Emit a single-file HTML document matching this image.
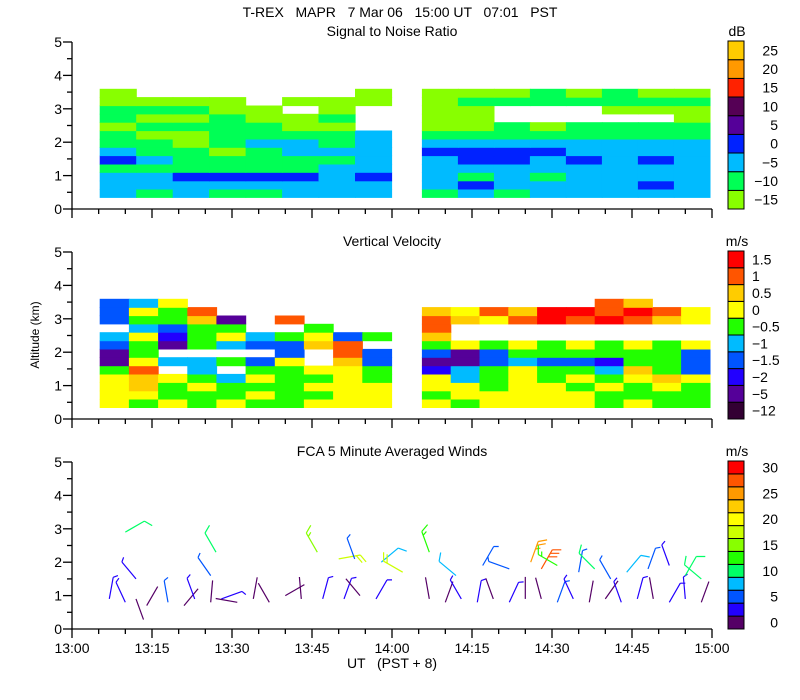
<!DOCTYPE html>
<html><head><meta charset="utf-8"><style>
body{margin:0;background:#fff}
svg{display:block;font-family:"Liberation Sans",sans-serif;font-size:14px}
</style></head><body>
<svg id="c" width="800" height="700" viewBox="0 0 800 700"></svg>
<script>
// ---- data ----
const snrColors=["#88ff00","#00ff55","#00bbff","#0022ff","#550099","#550055","#ff2200","#ff9900","#ffcc00"];
const snrTicks=["-15","-10","-5","0","5","10","15","20","25"];
const vvColors=["#330033","#550099","#2200ff","#0055ff","#00bbff","#22ff00","#ffff00","#ffcc00","#ff5500","#ff0000"];
const vvTicks=["-12","-5","-2","-1.5","-1","-0.5","0","0.5","1","1.5"];
const windColors=["#550066","#2200ff","#0055ff","#00bbff","#00ff66","#22ff00","#88ff00","#ccff00","#ffff00","#ffcc00","#ff9900","#ff5500","#ff0000"];
const windTicks=["0","5","10","15","20","25","30"];
const xTicks=["13:00","13:15","13:30","13:45","14:00","14:15","14:30","14:45","15:00"];
const rowBase=0.35, rowStep=0.25;
// segments: start/end minutes after 13:00
const seg1=[5.2,59.9], seg2=[65.6,119.6];
// SNR category index per row (bottom->top), per column
const snr1=[
[2,1,2,1,1,2,2,2],[2,2,2,2,2,2,2,2],[2,2,3,3,3,3,2,3],[1,1,1,1,1,1,2,2],
[3,2,1,1,1,1,1,2],[2,1,1,0,1,2,2,2],[1,1,0,1,2,2,1,2],[1,0,0,1,1,1,1,2],
[0,1,1,1,1,0,0,-1],[1,0,0,1,0,0,1,-1],[1,1,1,0,0,-1,0,-1],[0,0,0,0,-1,0,0,0],
[0,-1,-1,-1,-1,-1,-1,0]];
const snr2=[
[1,2,1,2,2,2,2,2],[2,3,2,2,2,2,3,2],[2,1,2,1,2,2,2,2],[2,2,2,2,2,2,2,2],
[2,3,3,2,3,2,3,2],[3,3,3,3,2,2,2,2],[2,2,2,2,2,2,2,2],[1,1,1,1,1,1,1,1],
[0,0,1,0,1,1,1,1],[0,0,-1,-1,-1,-1,-1,0],[0,0,-1,-1,-1,0,0,0],[0,1,1,1,1,1,1,1],
[0,0,0,1,0,1,0,0]];
const vv1=[
[6,5,6,5,6,5,5,6,6,6],[6,6,5,5,5,6,5,5,6,6],[6,7,5,6,5,5,5,6,6,6],[6,7,6,5,4,6,5,5,6,5],
[5,8,-1,4,-1,5,5,6,6,5],[1,6,4,4,5,3,6,-1,7,3],[1,5,-1,-1,-1,-1,3,-1,8,3],[3,5,1,5,4,3,3,7,8,-1],
[4,6,2,5,6,4,5,6,3,5],[-1,4,3,5,5,-1,-1,5,-1,-1],[3,5,5,7,1,-1,8,-1,-1,-1],[3,6,5,8,-1,-1,-1,-1,-1,-1],
[3,4,6,-1,-1,-1,-1,-1,-1,-1]];
const vv2=[
[6,5,6,6,6,6,5,6,5,5],[5,6,6,6,6,6,5,5,5,5],[6,6,5,6,6,5,6,5,6,5],[6,4,5,6,5,6,5,6,7,6],
[2,4,5,6,5,5,4,7,5,3],[1,1,3,4,3,3,2,5,5,3],[3,1,3,5,5,5,5,5,5,3],[5,6,5,6,5,6,5,6,5,6],
[7,-1,-1,-1,-1,-1,-1,-1,-1,-1],[8,-1,-1,-1,-1,-1,-1,-1,-1,-1],[8,7,6,8,9,8,9,8,7,6],[7,6,8,7,9,9,8,9,8,6],
[-1,-1,-1,-1,-1,-1,8,7,-1,-1]];
// winds: minutes after 13:00, altitude km, speed m/s, direction deg
const windTime=[7,10,12,14,18,21,23,26,28,31,34,37,40,43,47,51,54,57,67,70,73,76,79,82,85,88,91,94,97,100,103,106,109,112,115,118,
10,27,12,26,46,50,53,58,62,67,72,77,82,86,88,91,95,98,101,104,108,112,115,118];
const windAlt=[0.9,0.8,0.9,0.7,0.8,0.7,0.9,0.8,0.9,0.8,0.9,0.8,1.0,0.9,0.9,0.9,1.0,0.9,0.9,0.8,0.9,0.8,0.9,0.8,0.9,0.9,0.8,0.9,0.8,0.9,0.8,0.9,0.9,0.8,0.9,0.8,
2.9,2.3,1.5,1.6,2.3,2.1,2.1,2.0,1.7,2.3,1.6,1.9,1.8,2.0,1.8,1.9,1.7,1.8,1.5,1.7,1.8,1.9,1.6,1.5];
const windSpeed=[3,4,2,1,5,2,4,2,3,1,2,1,1,2,3,4,2,3,1,2,4,3,2,3,1,2,5,3,2,1,4,3,2,4,3,2,
11,12,4,5,17,18,6,9,18,13,9,6,5,25,28,14,7,10,6,8,5,4,12,10];
const windDir=[10,-25,160,30,-10,40,-20,5,70,-80,10,-30,60,-5,15,20,-40,30,-10,20,-30,10,-20,25,0,-15,20,-25,10,35,-20,15,-10,30,-5,20,
60,-30,-40,-35,-30,80,-20,50,-60,-20,-50,30,-70,20,30,-60,10,-45,-30,40,20,-20,30,-50];

// ---- helpers ----
const svg=document.getElementById('c');
const NS="http://www.w3.org/2000/svg";
function mk(tag,attrs,parent){const e=document.createElementNS(NS,tag);for(const k in attrs)e.setAttribute(k,attrs[k]);(parent||svg).appendChild(e);return e;}
const X0=72,X1=712;
const xs=m=>X0+(X1-X0)*m/120;
const panels=[{bot:209},{bot:419},{bot:629}];
const kmPx=33.4;
function ys(p,km){return panels[p].bot-km*kmPx;}
function txt(x,y,s,anchor,parent){const t=mk('text',{x:x,y:y,'text-anchor':anchor||'start'},parent);t.textContent=s;return t;}

// titles
let t=txt(400,17,"T-REX   MAPR   7 Mar 06   15:00 UT   07:01   PST",'middle');
t.setAttribute('xml:space','preserve');t.style.whiteSpace='pre';
const ptitles=["Signal to Noise Ratio","Vertical Velocity","FCA 5 Minute Averaged Winds"];
ptitles.forEach((s,i)=>{const e=txt(392,36+i*210,s,'middle');});

// fields
function drawField(p,grid,seg,colors,name){
  const g=mk('g',{});
  
  
  const nc=grid[0].length;
  for(let r=0;r<grid.length;r++)for(let c=0;c<nc;c++){
    const v=grid[r][c]; if(v<0)continue;
    const xa=xs(seg[0]+(seg[1]-seg[0])*c/nc), xb=xs(seg[0]+(seg[1]-seg[0])*(c+1)/nc);
    const ya=ys(p,rowBase+rowStep*(r+1)), yb=ys(p,rowBase+rowStep*r);
    const e=mk('rect',{x:xa.toFixed(1),y:ya.toFixed(1),width:(xb-xa+0.6).toFixed(1),height:(yb-ya+0.6).toFixed(1),fill:colors[v]},g);
    
    
  }
}
drawField(0,snr1,seg1,snrColors,'snr-field-1');
drawField(0,snr2,seg2,snrColors,'snr-field-2');
drawField(1,vv1,seg1,vvColors,'velocity-field-1');
drawField(1,vv2,seg2,vvColors,'velocity-field-2');

// winds
const wg=mk('g',{'stroke-width':1.2,fill:'none'});

for(let i=0;i<windTime.length;i++){
  const x=xs(windTime[i]), y=ys(2,windAlt[i]);
  const a=windDir[i]*Math.PI/180, L=22;
  const ex=x+Math.sin(a)*L, ey=y-Math.cos(a)*L;
  const ci=Math.min(windColors.length-1,Math.floor(windSpeed[i]/2.5));
  let d=`M${x.toFixed(1)} ${y.toFixed(1)}L${ex.toFixed(1)} ${ey.toFixed(1)}`;
  let s=windSpeed[i], k=0;
  const ba=a+Math.PI/3;
  while(s>=2.5&&k<4){const bl=s>=7.5?9:5;const px=ex-Math.sin(a)*k*4,py=ey+Math.cos(a)*k*4;
    d+=`M${px.toFixed(1)} ${py.toFixed(1)}l${(Math.sin(ba)*bl).toFixed(1)} ${(-Math.cos(ba)*bl).toFixed(1)}`;s-=(bl>5?10:5);k++;}
  const e=mk('path',{d:d,stroke:windColors[ci]},wg);
  
  
}

// axes
for(let p=0;p<3;p++){
  const g=mk('g',{stroke:'#000','stroke-width':1.3});
  
  const b=panels[p].bot;
  mk('path',{d:`M${X0} ${ys(p,5)}V${b}H${X1}`,fill:'none'},g);
  for(let k=0;k<=10;k++){const y=ys(p,k/2);mk('line',{x1:X0,x2:X0-(k%2?5:9),y1:y,y2:y},g);}
  for(let m=0;m<=120;m+=5){const x=xs(m);mk('line',{x1:x,x2:x,y1:b,y2:b+(m%15?5:9)},g);}
  for(let k=0;k<=5;k++){const e=txt(62,ys(p,k)+5,String(k),'end');}
}
xTicks.forEach((s,i)=>{const e=txt(xs(i*15),653,s,'middle');});
t=txt(392,668,"UT   (PST + 8)",'middle');t.style.whiteSpace='pre';
t=mk('text',{x:0,y:0,transform:'translate(39,335) rotate(-90)','text-anchor':'middle','font-size':12});t.textContent="Altitude (km)";


// colorbars
function colorbar(top,bot,colors,ticks,unit,align,lx,name){
  const g=mk('g',{});
  
  const n=colors.length,h=(bot-top)/n;
  colors.forEach((c,i)=>{const e=mk('rect',{x:728,y:(bot-(i+1)*h).toFixed(1),width:16,height:h.toFixed(1),fill:c,stroke:'#000','stroke-width':1},g);
    });
  const step=(n-1)/(ticks.length-1);
  ticks.forEach((s,i)=>{const y=bot-i*step*h-h/2+5;const e=txt(lx,y,s.replace('-','\u2212'),align,g);
    });
  const u=txt(737,top-5,unit,'middle',g);
}
colorbar(41,209,snrColors,snrTicks,"dB",'end',778,'snr-colorbar');
colorbar(251,419,vvColors,vvTicks,"m/s",'start',752,'velocity-colorbar');
colorbar(461,629,windColors,windTicks,"m/s",'end',778,'wind-colorbar');
</script>
</body></html>
